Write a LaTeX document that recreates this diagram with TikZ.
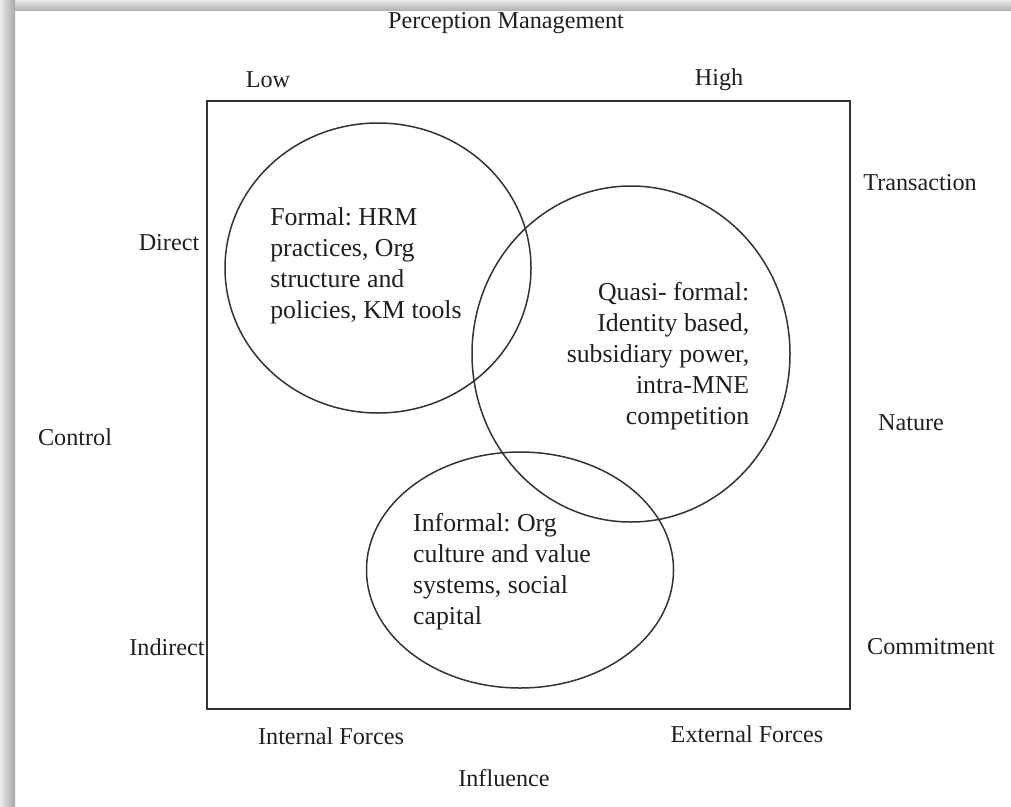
\documentclass[tikz,border=0pt]{standalone}
\usepackage{fontspec}
\setmainfont{Liberation Serif}
\usetikzlibrary{shapes,positioning}
\colorlet{linegray}{black!80}
\colorlet{textgray}{black!88}

\begin{document}
\begin{tikzpicture}[x=1pt, y=-1pt,
  axislabel/.style={text=textgray, font=\fontsize{24.2}{31}\selectfont\frenchspacing, inner sep=0pt},
  blocktext/.style={axislabel, font=\fontsize{25.8}{31}\selectfont\frenchspacing, align=#1},
  blob/.style={ellipse, draw=linegray, line width=1.5pt, inner sep=0pt, minimum width=#1},
  box/.style={rectangle, draw=linegray, line width=1.5pt, inner sep=0pt}]

\useasboundingbox (0,0) rectangle (1011,806);

% FRAME

\shade[top color=gray!15, bottom color=gray!60] (0,0) rectangle (1011,10);
\shade[left color=gray!15, right color=gray!70] (0,0) rectangle (15,806);

\node [box, minimum width=643pt, minimum height=608pt] (grid) at (528.5,405) {};

% CIRCLES

\node [blob=306pt, minimum height=290pt] (formal) at (378,268) {};
\node [blob=318pt, minimum height=336pt] (quasi) at (631,354) {};
\node [blob=307pt, minimum height=236pt] (informal) at (520,570) {};

\node [blocktext=left] (formal-text) at (366,266)
{Formal: HRM\\ practices, Org\\ structure and\\ policies, KM tools};

\node [blocktext=right] (quasi-text) at (658,356)
{Quasi- formal:\\ Identity based,\\ subsidiary power,\\ intra-MNE\\ competition};

\node [blocktext=left] (informal-text) at (502,572)
{Informal: Org\\ culture and value\\ systems, social\\ capital};

% AXES

\node [axislabel] (perception) at (506,23) {Perception Management};
\node [axislabel] (low) at (268,80) {Low};
\node [axislabel] (high) at (719,80) {High};

\node [axislabel] (direct) at (169,243) {Direct};
\node [axislabel] (control) at (75,437) {Control};
\node [axislabel] (indirect) at (167,647) {Indirect};

\node [axislabel] (transaction) at (920,183) {Transaction};
\node [axislabel] (nature) at (911,423) {Nature};
\node [axislabel] (commitment) at (931,647) {Commitment};

\node [axislabel] (internal) at (331,736) {Internal Forces};
\node [axislabel] (external) at (747,734) {External Forces};
\node [axislabel] (influence) at (504,778) {Influence};

\end{tikzpicture}
\end{document}
